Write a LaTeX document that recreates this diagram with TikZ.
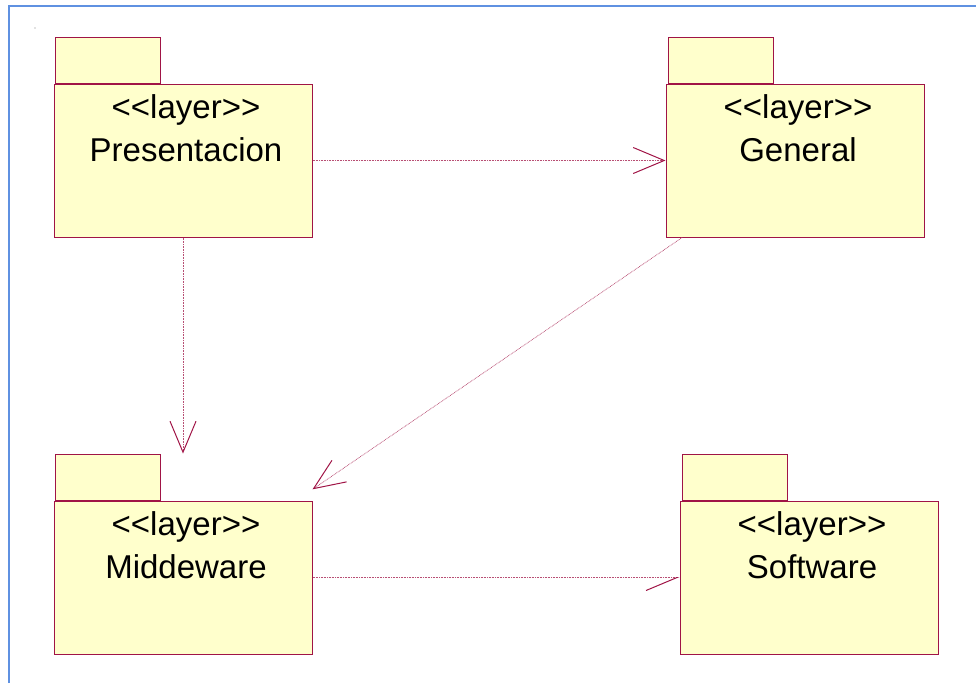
\documentclass[tikz,border=0pt]{standalone}
\usepackage{fontspec}
\setmainfont{Liberation Sans}[Ligatures=TeXOff]
\usetikzlibrary{arrows.meta,positioning,calc}
\definecolor{roseline}{RGB}{160,20,70}
\definecolor{rosefill}{RGB}{255,255,204}
\definecolor{frameblue}{RGB}{95,145,225}

\begin{document}
\begin{tikzpicture}[x=1pt,y=-1pt,
  pkg/.style={draw=roseline,fill=rosefill,line width=1pt,minimum width=258pt,minimum height=153pt,inner sep=0pt},
  pkgtab/.style={draw=roseline,fill=rosefill,line width=1pt,minimum width=105pt,minimum height=46pt,inner sep=0pt,anchor=south west},
  pkgtext/.style={font=\fontsize{33}{43}\selectfont,align=center,anchor=north,inner sep=0pt,yshift=-10.5pt},
  dep/.style={draw=roseline!75,dash pattern=on .8pt off .8pt,line width=.7pt,-{Straight Barb[length=31pt,width=26pt,line width=1pt,color=roseline]}},
  halfdep/.style={dep,-{Straight Barb[length=31pt,width=26pt,line width=1pt,color=roseline,harpoon,swap]}}]
\useasboundingbox (0,0) rectangle (976,683);
\draw[frameblue,line width=2pt] (9,683) -- (9,6) -- (976,6);
\fill[gray] (35,28) circle (.6pt);
% layer packages
\node[pkg,label={[pkgtext,xshift=3pt]north:{<<layer>>\\Presentacion}}] (pres) at (183,160.5) {};
\node[pkg,right=353pt of pres,label={[pkgtext,xshift=3pt]north:{<<layer>>\\General}}] (gen) {};
\node[pkg,below=263pt of pres,label={[pkgtext,xshift=3pt]north:{<<layer>>\\Middeware}}] (mid) {};
\node[pkg,right=367pt of mid,label={[pkgtext,xshift=3pt]north:{<<layer>>\\Software}}] (soft) {};
% folder tabs
\node[pkgtab] (prestab) at ([xshift=1pt]pres.north west) {};
\node[pkgtab] (gentab) at ([xshift=2pt]gen.north west) {};
\node[pkgtab] (midtab) at ([xshift=1pt]mid.north west) {};
\node[pkgtab] (softtab) at ([xshift=2pt]soft.north west) {};
% dependencies
\draw[dep] (pres) -- (gen);
\draw[dep] (pres) -- (pres |- midtab.north);
\draw[dep] (gen) -- (intersection cs:first line={(gen)--(mid)},second line={(mid.north east)--(mid.south east)});
\draw[halfdep] (mid) -- (soft);
\end{tikzpicture}
\end{document}
